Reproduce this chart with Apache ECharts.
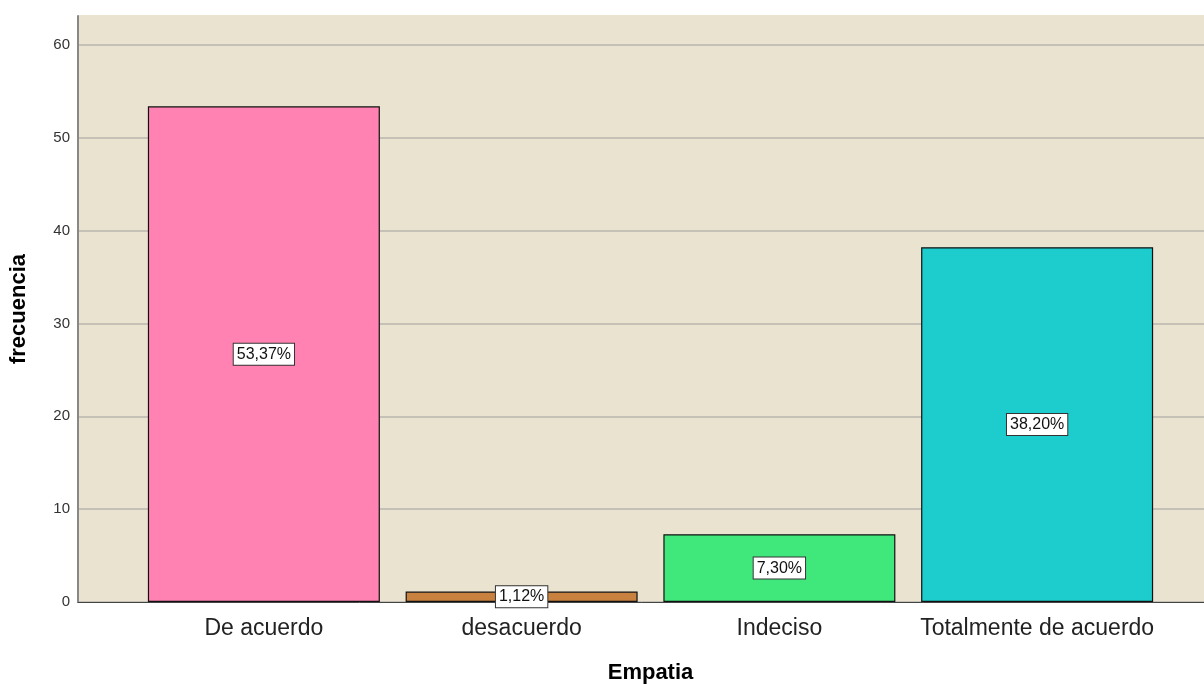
<!DOCTYPE html>
<html>
<head>
<meta charset="utf-8">
<script src="https://cdn.jsdelivr.net/npm/echarts@6/dist/echarts.min.js"></script>
<style>
    html, body { margin: 0; padding: 0; background: #fff; }
    #chart { width: 1204px; height: 684px; }
</style>
</head>
<body>
<div id="chart"></div>
<script>
'use strict';
// datos del gráfico
var categorias = ['De acuerdo', 'desacuerdo', 'Indeciso', 'Totalmente de acuerdo'];
var porcentajes = [53.37, 1.12, 7.30, 38.20];
var colores = ['#FF82B2', '#C8813E', '#40E87C', '#1DCCCC'];
var ticksY = [0, 10, 20, 30, 40, 50, 60];

var chart = echarts.init(document.getElementById('chart'));

var FUENTE = '"Liberation Sans", Arial, sans-serif';
var MAX_Y = 63.1;
var FONDO = '#EAE3CF';
var REJILLA = '#C5C1B6';

var option = {
    animation: false,
    textStyle: { fontFamily: FUENTE },
    grid: [
        // fondo + eje y
        { left: 78, top: 16, right: -20, bottom: 82, show: true, backgroundColor: FONDO, borderWidth: 0, outerBoundsMode: 'none' },
        // barras
        { left: 135, top: 16, width: 1031, bottom: 82, outerBoundsMode: 'none' }
    ],
    xAxis: [{
        gridIndex: 0,
        type: 'value',
        min: 0,
        max: 1,
        axisLine: { show: true, onZero: false, lineStyle: { color: '#444', width: 1 } },
        axisTick: { show: false },
        axisLabel: { show: false },
        splitLine: { show: false }
    }, {
        gridIndex: 1,
        type: 'category',
        data: categorias,
        name: 'Empatia',
        nameLocation: 'middle',
        nameGap: 60,
        nameTextStyle: { fontSize: 22, fontWeight: 'bold', color: '#000', fontFamily: FUENTE },
        axisLine: { show: false },
        axisTick: { show: false },
        axisLabel: { interval: 0, fontSize: 23, color: '#222', margin: 15, fontFamily: FUENTE }
    }],
    yAxis: [{
        gridIndex: 0,
        type: 'value',
        min: 0,
        max: MAX_Y,
        interval: 10,
        name: 'frecuencia',
        nameLocation: 'middle',
        nameGap: 48,
        nameTextStyle: { fontSize: 22, fontWeight: 'bold', color: '#000', fontFamily: FUENTE },
        axisLine: { show: true, lineStyle: { color: '#888', width: 2 } },
        axisTick: { show: false },
        axisLabel: {
            showMaxLabel: false,
            fontSize: 15,
            color: '#333',
            margin: 8,
            formatter: function (v) {
                return ticksY.indexOf(v) >= 0 ? String(v) : '';
            }
        },
        splitLine: {
            show: true,
            lineStyle: { color: [REJILLA, REJILLA, REJILLA, REJILLA, REJILLA, REJILLA, REJILLA, FONDO], width: 2 }
        }
    }, {
        gridIndex: 1,
        type: 'value',
        min: 0,
        max: MAX_Y,
        show: false
    }],
    series: [{
        type: 'bar',
        xAxisIndex: 1,
        yAxisIndex: 1,
        barWidth: 232,
        data: porcentajes.map(function (v, i) {
            return { value: v, itemStyle: { color: colores[i] } };
        }),
        itemStyle: { borderColor: '#111', borderWidth: 1.2 },
        label: {
            show: true,
            position: 'inside',
            formatter: function (p) {
                return p.value.toFixed(2).replace('.', ',') + '%';
            },
            color: '#111',
            fontSize: 16,
            fontFamily: FUENTE,
            backgroundColor: '#fff',
            borderColor: '#333',
            borderWidth: 1,
            padding: [3, 3, 2, 3]
        },
        z: 3
    }]
};

chart.setOption(option);
</script>
</body>
</html>
